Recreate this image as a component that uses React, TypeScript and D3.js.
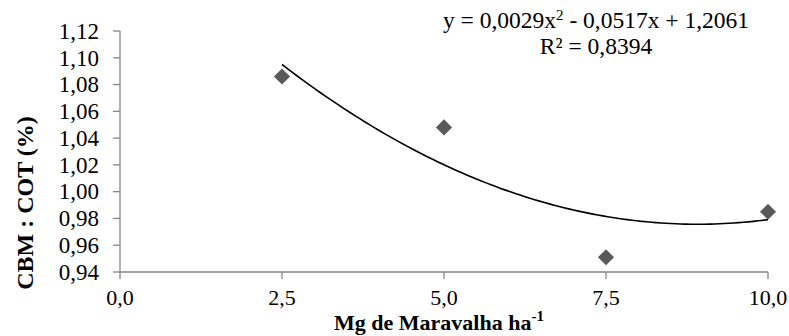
import React from "react";
import * as d3 from "d3";

const doses = [2.5, 5.0, 7.5, 10.0];
const ratios = [1.086, 1.048, 0.951, 0.985];
const xTicks = [0, 2.5, 5.0, 7.5, 10.0];
const yTicks = [0.94, 0.96, 0.98, 1.0, 1.02, 1.04, 1.06, 1.08, 1.1, 1.12];
const trendCoef = [0.0029, -0.0517, 1.2061]; // a, b, c
const r2Label = "R² = 0,8394";

const W = 789;
const H = 336;
const AXIS = "#868686";

export default function App() {
  const x = d3.scaleLinear().domain([0, 10]).range([120, 768]);
  const y = d3.scaleLinear().domain([0.94, 1.12]).range([272, 31]);
  const fmtX = (v: number) => d3.format(".1f")(v).replace(".", ",");
  const fmtY = (v: number) => d3.format(".2f")(v).replace(".", ",");

  const [a, b, c] = trendCoef;
  const trendX = d3.range(0, 101).map((i) => 2.5 + (7.5 * i) / 100);
  const line = d3
    .line<number>()
    .x((d) => x(d))
    .y((d) => y(a * d * d + b * d + c));

  const diamond = d3.symbol().type(d3.symbolSquare).size(130)();

  return (
    <svg width={W} height={H} style={{ position: "absolute", left: 0, top: 0, background: "#fff" }}>
      <style>{`text, tspan { font-family: "Liberation Serif", "Times New Roman", serif; }`}</style>
      <rect width={W} height={H} fill="#fff" />
      {/* y axis */}
      <line x1={x(0)} x2={x(0)} y1={y(1.12)} y2={y(0.94)} stroke={AXIS} strokeWidth={1.3} />
      {yTicks.map((t) => (
        <g key={t}>
          <line x1={x(0) - 7} x2={x(0)} y1={y(t)} y2={y(t)} stroke={AXIS} strokeWidth={1.3} />
          <text x={x(0) - 21} y={y(t)} dy="0.34em" textAnchor="end" fontSize={23} fill="#000">
            {fmtY(t)}
          </text>
        </g>
      ))}
      {/* x axis */}
      <line x1={x(0)} x2={x(10)} y1={y(0.94)} y2={y(0.94)} stroke={AXIS} strokeWidth={1.3} />
      {xTicks.map((t) => (
        <g key={t}>
          <line x1={x(t)} x2={x(t)} y1={y(0.94)} y2={y(0.94) + 7} stroke={AXIS} strokeWidth={1.3} />
          <text x={x(t)} y={305} textAnchor="middle" fontSize={22} fill="#000">
            {fmtX(t)}
          </text>
        </g>
      ))}
      {/* trendline */}
      <path d={line(trendX) || ""} fill="none" stroke="#000" strokeWidth={1.6} />
      {/* points */}
      {doses.map((d, i) => (
        <path
          key={d}
          d={diamond || ""}
          transform={`translate(${x(d)},${y(ratios[i])}) rotate(45)`}
          fill="#595959"
        />
      ))}
      {/* equation */}
      <text x={596} y={28} textAnchor="middle" fontSize={23.5} fill="#000">
        y = 0,0029x<tspan dy={-8} fontSize={15}>2</tspan>
        <tspan dy={8}> - 0,0517x + 1,2061</tspan>
      </text>
      <text x={596} y={54} textAnchor="middle" fontSize={23.5} fill="#000">
        {r2Label}
      </text>
      {/* axis titles */}
      <text x={439} y={330} textAnchor="middle" fontSize={22} fontWeight="bold" fill="#000">
        Mg de Maravalha ha<tspan dy={-9} fontSize={15}>-1</tspan>
      </text>
      <text
        transform={`translate(33,${203}) rotate(-90)`}
        textAnchor="middle"
        fontSize={24}
        fontWeight="bold"
        fill="#000"
      >
        CBM : COT (%)
      </text>
    </svg>
  );
}
